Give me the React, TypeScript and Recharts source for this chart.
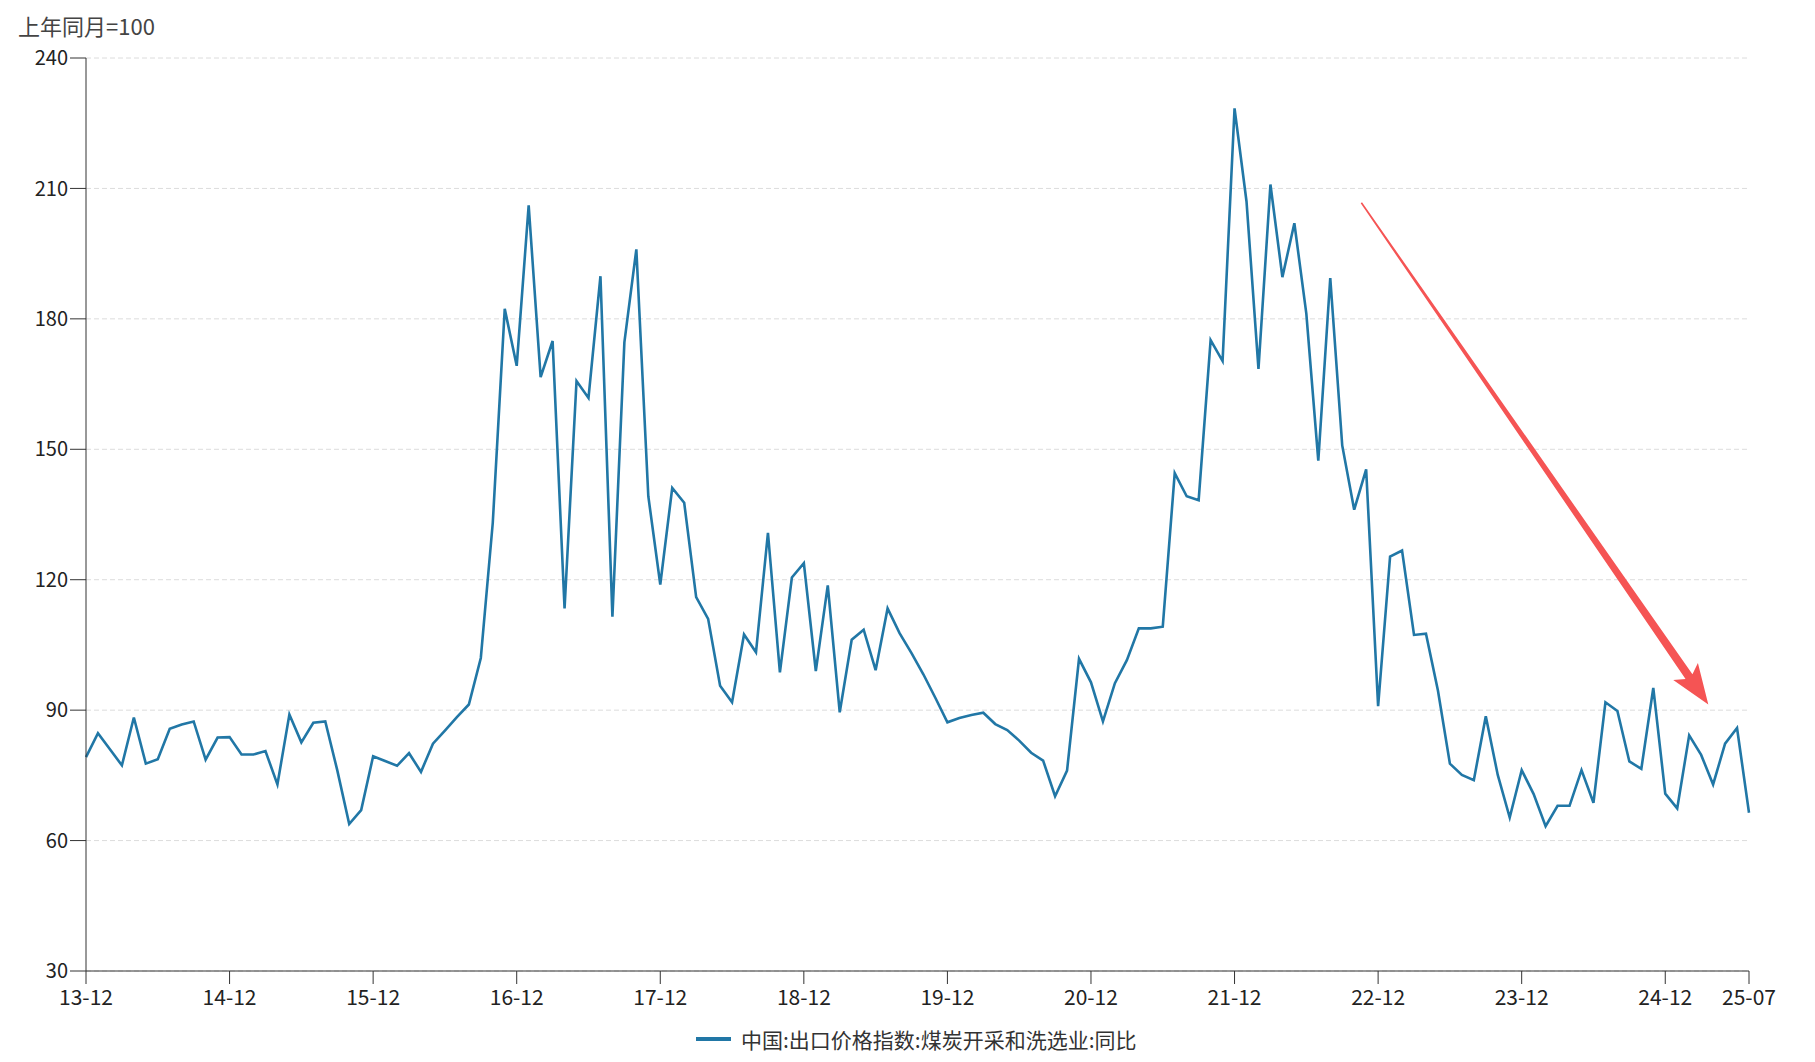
import React from "react";
import {
  LineChart,
  Line,
  XAxis,
  YAxis,
  CartesianGrid,
  Legend,
  ReferenceLine,
} from "recharts";

// 月份: 2013-12 ~ 2025-07
const startYear = 2013;
const startMonth = 12;
const monthCount = 140;

const months: string[] = [];
for (let i = 0; i < monthCount; i++) {
  const m0 = startMonth - 1 + i;
  const yy = (startYear + Math.floor(m0 / 12)) % 100;
  const mm = (m0 % 12) + 1;
  months.push(`${yy}-${mm < 10 ? "0" + mm : mm}`);
}

// 中国:出口价格指数:煤炭开采和洗选业:同比 (上年同月=100)
const coalExportIndex = [
  79.2, 84.7, 81.0, 77.3, 88.3, 77.7, 78.7, 85.7, 86.7, 87.4, 78.6, 83.7,
  83.8, 79.8, 79.8, 80.6, 72.9, 89.0, 82.6, 87.1, 87.4, 76.2, 63.8, 67.0,
  79.4, 78.3, 77.2, 80.1, 75.8, 82.3, 85.3, 88.4, 91.3, 102.0, 133.1, 182.3,
  169.2, 206.1, 166.6, 174.9, 113.4, 165.7, 161.8, 189.8, 111.5, 174.6, 196.0, 139.2,
  118.9, 141.1, 137.7, 116.0, 111.0, 95.6, 91.8, 107.4, 103.3, 130.8, 98.7, 120.5,
  123.8, 99.0, 118.7, 89.5, 106.2, 108.5, 99.2, 113.4, 107.7, 103.1, 98.2, 92.8,
  87.2, 88.2, 88.9, 89.4, 86.8, 85.4, 83.0, 80.2, 78.4, 70.2, 76.1, 101.8,
  96.4, 87.4, 96.2, 101.5, 108.8, 108.8, 109.2, 144.5, 139.2, 138.3, 175.1, 170.3,
  228.4, 207.0, 168.5, 210.9, 189.6, 202.0, 181.2, 147.4, 189.4, 150.9, 136.1, 145.4,
  90.9, 125.3, 126.7, 107.3, 107.6, 94.5, 77.7, 75.1, 73.9, 88.6, 75.1, 65.3,
  76.2, 70.7, 63.3, 68.0, 68.0, 76.2, 68.7, 91.8, 89.8, 78.2, 76.5, 95.1,
  70.8, 67.4, 84.2, 79.7, 72.9, 82.3, 85.9, 66.4,
];

const xTickLabels = [
  "13-12", "14-12", "15-12", "16-12", "17-12", "18-12",
  "19-12", "20-12", "21-12", "22-12", "23-12", "24-12", "25-07",
];
const yTicks = [30, 60, 90, 120, 150, 180, 210, 240];

// 趋势箭头 (x 为月份序号)
const arrowFrom = { x: 106.6, y: 206.7 };
const arrowTo = { x: 135.6, y: 91.3 };

const seriesName = "中国:出口价格指数:煤炭开采和洗选业:同比";
const lineColor = "#2177a6";
const font = '"Noto Sans CJK SC", "Noto Sans", sans-serif';

const data = months.map((m, i) => ({ idx: i, month: m, value: coalExportIndex[i] }));
const xTicks = xTickLabels.map((l) => months.indexOf(l));

const Arrow = (props: any) => {
  const { x1, y1, x2, y2 } = props;
  if ([x1, y1, x2, y2].some((v) => v == null || isNaN(v))) return null;
  const dx = x2 - x1;
  const dy = y2 - y1;
  const len = Math.sqrt(dx * dx + dy * dy);
  const ux = dx / len;
  const uy = dy / len;
  const nx = -uy;
  const ny = ux;
  const headLen = 40;
  const headHalf = 15;
  const w0 = 0.8;
  const w1 = 4.2;
  const bx = x2 - ux * headLen;
  const by = y2 - uy * headLen;
  const pts = [
    [x1 + nx * w0, y1 + ny * w0],
    [bx + nx * w1 + ux * 6, by + ny * w1 + uy * 6],
    [bx + nx * headHalf, by + ny * headHalf],
    [x2, y2],
    [bx - nx * headHalf, by - ny * headHalf],
    [bx - nx * w1 + ux * 6, by - ny * w1 + uy * 6],
    [x1 - nx * w0, y1 - ny * w0],
  ];
  return <polygon points={pts.map((p) => p.join(",")).join(" ")} fill="#f55454" />;
};

const LegendContent = () => (
  <div style={{ display: "flex", alignItems: "center", fontFamily: font, fontSize: 21, color: "#333" }}>
    <span style={{ display: "inline-block", width: 35, height: 4, background: lineColor, marginRight: 10 }} />
    <span>{seriesName}</span>
  </div>
);

export default function App() {
  return (
    <div style={{ position: "absolute", left: 0, top: 0, width: 1815, height: 1062, background: "#fff" }}>
      <div
        style={{
          position: "absolute",
          left: 18,
          top: 10,
          fontFamily: font,
          fontSize: 22,
          color: "#444",
          lineHeight: "30px",
        }}
      >
        上年同月=100
      </div>
      <LineChart
        width={1815}
        height={1062}
        data={data}
        margin={{ top: 58, right: 66, left: 0, bottom: 0 }}
      >
        <CartesianGrid vertical={false} stroke="#dcdcdc" strokeDasharray="5 3" />
        <XAxis
          dataKey="idx"
          type="number"
          domain={[0, monthCount - 1]}
          ticks={xTicks}
          tickFormatter={(v: number) => months[v]}
          interval={0}
          height={51}
          tickSize={13}
          tickMargin={6}
          stroke="#333"
          tick={{ fill: "#222", fontSize: 21, fontFamily: font }}
        />
        <YAxis
          domain={[30, 240]}
          ticks={yTicks}
          width={86}
          tickSize={16}
          tickMargin={2}
          stroke="#333"
          tick={{ fill: "#222", fontSize: 20, fontFamily: font }}
        />
        <Legend
          verticalAlign="bottom"
          content={<LegendContent />}
          wrapperStyle={{ left: 696, width: 480, height: 40, bottom: -2 }}
        />
        <Line
          type="linear"
          dataKey="value"
          name={seriesName}
          stroke={lineColor}
          strokeWidth={2.6}
          dot={false}
          activeDot={false}
          isAnimationActive={false}
        />
        <ReferenceLine
          segment={[arrowFrom, arrowTo]}
          ifOverflow="visible"
          shape={<Arrow />}
        />
      </LineChart>
    </div>
  );
}
